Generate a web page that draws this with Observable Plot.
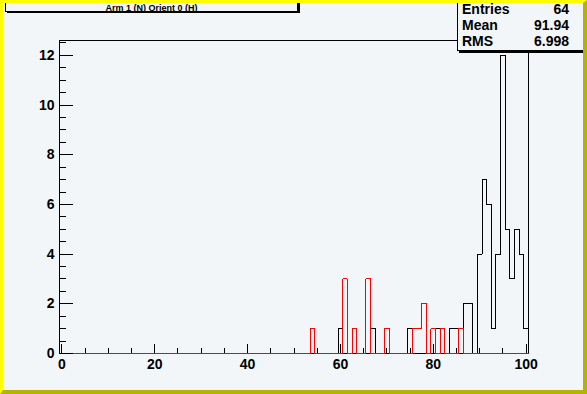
<!DOCTYPE html>
<html>
<head>
<meta charset="utf-8">
<script src="https://cdn.jsdelivr.net/npm/d3@7"></script>
<script src="https://cdn.jsdelivr.net/npm/@observablehq/plot@0.6"></script>
<style>
  body { margin: 0; background: #f2f6f8; }
  #wrap { position: relative; width: 587px; height: 394px; overflow: hidden; background: #f2f6f8;
          font-family: "Liberation Sans", Arial, Helvetica, sans-serif; color: #000; }
  #chart { position: absolute; left: 0; top: 0; }
  #chart svg { shape-rendering: crispEdges; }
  #border { position: absolute; left: 0; top: 0; width: 587px; height: 394px; box-sizing: border-box;
            border-style: solid; border-width: 3px 4px 4px 3px;
            border-color: #ffff00 #b4b400 #b4b400 #ffff00; pointer-events: none; z-index: 5; }
  #title { position: absolute; left: 5px; top: -2px; width: 293px; height: 14px; box-sizing: border-box;
           border: 1px solid #000; background: #f2f6f8; box-shadow: 2px 1px 0 #000;
           font-weight: bold; font-size: 9px; text-align: center; line-height: 1; z-index: 3; }
  #title span { position: absolute; left: 0; right: 0; top: 5px; }
  #stats { position: absolute; left: 457px; top: -2px; width: 140px; height: 53px; box-sizing: border-box;
           border: 1px solid #000; background: #f2f6f8; box-shadow: 2px 2px 0 #000; z-index: 3;
           font-weight: bold; font-size: 14px; }
  .row { position: absolute; left: 4px; width: 107px; height: 16px; line-height: 16px;
         display: flex; justify-content: space-between; }
</style>
</head>
<body>
<div id="wrap">
  <div id="chart"></div>
  <div id="title"><span id="titleText"></span></div>
  <div id="stats"></div>
  <div id="border"></div>
</div>
<script>
// ---- data (bins of width 1, centred on integers) ----
const titleText = "Arm 1 (N) Orient 0 (H)";
const blackBins   = [60, 67, 75, 81, 82, 84, 85, 86, 87, 88, 90, 91, 92, 93, 94, 95, 96, 97, 98, 99, 100];
const blackCounts = [ 1,  1,  1,  1,  1,  1,  1,  1,  2,  2,  4,  7,  6,  1,  4, 12,  5,  3,  5,  4,   1];
const redBins     = [54, 61, 63, 66, 70, 76, 77, 78, 80, 82, 86];
const redCounts   = [ 1,  3,  1,  3,  1,  1,  1,  2,  1,  1,  1];
const statLabels  = ["Entries", "Mean", "RMS"];
const statValues  = ["64", "91.94", "6.998"];
const xTickLabels = [0, 20, 40, 60, 80, 100];
const yTickLabels = [0, 2, 4, 6, 8, 10, 12];
const xMinorTicks = [5, 10, 15, 25, 30, 35, 45, 50, 55, 65, 70, 75, 85, 90, 95];
const yMinorTicks = [0.5, 1, 1.5, 2.5, 3, 3.5, 4.5, 5, 5.5, 6.5, 7, 7.5, 8.5, 9, 9.5, 10.5, 11, 11.5, 12.5];
const xDomain = [-0.5, 100.5];
const yDomain = [0, 12.6];

// build step outlines (ROOT style) from the bin arrays
function steps(bins, counts) {
  const full = new Map(bins.map((b, i) => [b, counts[i]]));
  const pts = [{x: xDomain[0], y: 0}];
  for (let b = 0; b <= 100; b++) pts.push({x: b - 0.5, y: full.get(b) ?? 0});
  pts.push({x: xDomain[1], y: full.get(100) ?? 0});
  pts.push({x: xDomain[1], y: 0});
  return pts;
}
const blackSteps = steps(blackBins, blackCounts);
const redSteps = steps(redBins, redCounts);

const plot = Plot.plot({
  width: 587,
  height: 394,
  marginLeft: 59,
  marginRight: 59,
  marginTop: 40,
  marginBottom: 41,
  style: {background: "transparent", color: "#000", fontFamily: "'Liberation Sans', Arial, Helvetica, sans-serif"},
  x: {domain: xDomain, axis: null},
  y: {domain: yDomain, axis: null},
  marks: [
    Plot.frame({stroke: "#000", strokeWidth: 1}),
    Plot.line(blackSteps, {x: "x", y: "y", curve: "step-after", stroke: "#000", strokeWidth: 1}),
    Plot.line(redSteps, {x: "x", y: "y", curve: "step-after", stroke: "#ff0000", strokeWidth: 1}),
    // x axis: labels + inward ticks
    Plot.axisX({ticks: xTickLabels, tickSize: 0, tickPadding: 6, fontSize: 14, fontWeight: "bold", label: null}),
    Plot.axisX({ticks: xTickLabels, tickSize: -9, tickFormat: () => "", label: null}),
    Plot.axisX({ticks: xMinorTicks, tickSize: -5, tickFormat: () => "", label: null}),
    // y axis: labels + inward ticks
    Plot.axisY({ticks: yTickLabels, tickSize: 0, tickPadding: 5, fontSize: 14, fontWeight: "bold", label: null}),
    Plot.axisY({ticks: yTickLabels, tickSize: -14, tickFormat: () => "", label: null}),
    Plot.axisY({ticks: yMinorTicks, tickSize: -7, tickFormat: () => "", label: null})
  ]
});
document.getElementById("chart").appendChild(plot);

document.getElementById("titleText").textContent = titleText;
const stats = document.getElementById("stats");
statLabels.forEach((lab, i) => {
  const row = document.createElement("div");
  row.className = "row";
  row.style.top = (2 + i * 16) + "px";
  const a = document.createElement("span"); a.textContent = lab;
  const b = document.createElement("span"); b.textContent = statValues[i];
  row.appendChild(a); row.appendChild(b);
  stats.appendChild(row);
});
</script>
</body>
</html>
